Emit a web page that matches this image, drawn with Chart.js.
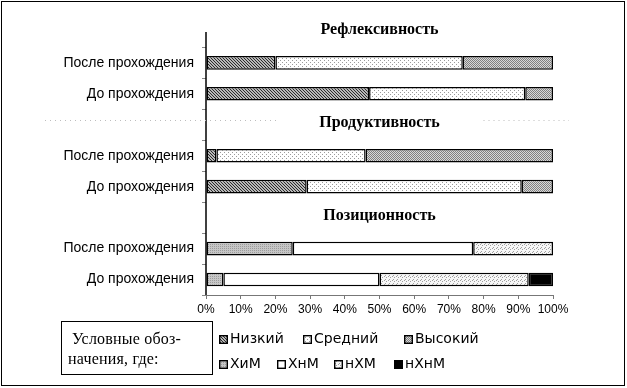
<!DOCTYPE html>
<html>
<head>
<meta charset="utf-8">
<script src="https://cdn.jsdelivr.net/npm/chart.js@4.4.1/dist/chart.umd.min.js"></script>
<style>
  html, body { margin: 0; padding: 0; background: #fff; }
  #wrap { position: relative; width: 627px; height: 388px; overflow: hidden; }
  #frame { position: absolute; left: 1px; top: 1px; width: 622px; height: 383px; border: 1px solid #000; pointer-events: none; }
  canvas#chart { position: absolute; left: 0; top: 0; }
  #legbox {
    position: absolute; left: 61px; top: 321px; width: 144px; height: 52px;
    border: 1px solid #000; font: 16px "Liberation Serif", serif; line-height: 20px;
    padding: 0 0 0 6px; box-sizing: content-box; letter-spacing: 0.2px;
  }
  #legbox .l1 { margin-top: 7px; padding-left: 4px; }
  .item { position: absolute; font: 14px "DejaVu Sans", sans-serif; line-height: 16px; white-space: nowrap; }
  .item canvas { display: inline-block; vertical-align: -1px; margin-right: 2px; }
</style>
</head>
<body>
<div id="wrap">
  <canvas id="chart" width="627" height="388"></canvas>
  <div id="legbox"><div class="l1">Условные обоз-</div><div>начения, где:</div></div>
  <div id="legend"></div>
  <div id="frame"></div>
</div>
<script>
// rows of the y axis (empty rows carry the section titles)
const rowLabels = ['', 'После прохождения', 'До прохождения', '', 'После прохождения', 'До прохождения', '', 'После прохождения', 'До прохождения'];
const sectionTitles = ['Рефлексивность', 'Продуктивность', 'Позиционность'];
const titleRows = [0, 3, 6];

// percentages
const lowValues  = [null, 20, 47, null, 3, 29, null, null, null];
const midValues  = [null, 54, 45, null, 43, 62, null, null, null];
const highValues = [null, 26, 8, null, 54, 9, null, null, null];
const himValues  = [null, null, null, null, null, null, null, 25, 5];
const hnmValues  = [null, null, null, null, null, null, null, 52, 45];
const nhmValues  = [null, null, null, null, null, null, null, 23, 43];
const nhnmValues = [null, null, null, null, null, null, null, null, 7];

const seriesNames = ['Низкий', 'Средний', 'Высокий', 'ХиМ', 'ХнМ', 'нХМ', 'нХнМ'];

// small pixel tiles used as fill patterns
function tileCanvas(size, bg, fg, test) {
  const c = document.createElement('canvas');
  c.width = size; c.height = size;
  const g = c.getContext('2d');
  g.fillStyle = bg; g.fillRect(0, 0, size, size);
  g.fillStyle = fg;
  for (let y = 0; y < size; y++)
    for (let x = 0; x < size; x++)
      if (test(x, y)) g.fillRect(x, y, 1, 1);
  return c;
}
const tiles = [
  tileCanvas(6, '#b8b8b8', '#2a2a2a', (x, y) => (x - y + 6) % 3 === 0),
  tileCanvas(4, '#ffffff', '#9a9a9a', (x, y) => (x === 0 && y === 0) || (x === 2 && y === 2)),
  tileCanvas(4, '#d8d8d8', '#808080', (x, y) => (x + y) % 2 === 0),
  tileCanvas(4, '#c6c6c6', '#9c9c9c', (x, y) => (x + y) % 2 === 0 && y % 2 === 0),
  tileCanvas(2, '#ffffff', '#ffffff', () => false),
  tileCanvas(4, '#f7f7f7', '#a0a0a0', (x, y) => (x === 0 && y === 0) || (x === 2 && y === 1) || (x === 1 && y === 3)),
  tileCanvas(2, '#000000', '#000000', () => true)
];

const ctx = document.getElementById('chart').getContext('2d');
const fills = tiles.map(t => ctx.createPattern(t, 'repeat'));
const allValues = [lowValues, midValues, highValues, himValues, hnmValues, nhmValues, nhnmValues];

const titlePlugin = {
  id: 'sections',
  afterDraw(chart) {
    const { ctx, chartArea } = chart;
    const ys = chart.scales.y;
    const cx = (chartArea.left + chartArea.right) / 2;
    ctx.save();
    // y axis line, starting at the first title row
    ctx.strokeStyle = '#000';
    ctx.lineWidth = 1.5;
    ctx.beginPath();
    ctx.moveTo(chartArea.left, ys.getPixelForValue(0));
    ctx.lineTo(chartArea.left, chartArea.bottom);
    ctx.stroke();
    // faint dotted separator near the second title
    const sy = Math.round(ys.getPixelForValue(3)) - 4.5;
    ctx.strokeStyle = '#bdbdbd';
    ctx.lineWidth = 1;
    ctx.setLineDash([1, 4]);
    ctx.beginPath();
    ctx.moveTo(45, sy); ctx.lineTo(cx - 100, sy);
    ctx.moveTo(cx + 104, sy); ctx.lineTo(chartArea.right + 16, sy);
    ctx.stroke();
    ctx.setLineDash([]);
    ctx.fillStyle = '#000';
    ctx.font = 'bold 16px "Liberation Serif", serif';
    ctx.textAlign = 'center';
    ctx.textBaseline = 'middle';
    titleRows.forEach((r, i) => ctx.fillText(sectionTitles[i], cx, ys.getPixelForValue(r) - 2));
    ctx.restore();
  }
};

new Chart(ctx, {
  type: 'bar',
  data: {
    labels: rowLabels,
    datasets: allValues.map((vals, i) => ({
      label: seriesNames[i],
      data: vals,
      backgroundColor: fills[i],
      borderColor: '#000',
      borderWidth: 1.5,
      borderSkipped: false,
      barPercentage: 0.44,
      categoryPercentage: 1
    }))
  },
  options: {
    indexAxis: 'y',
    responsive: false,
    animation: false,
    layout: { padding: { left: 0, right: 74, top: 8, bottom: 73 } },
    plugins: { legend: { display: false }, tooltip: { enabled: false } },
    scales: {
      x: {
        stacked: true,
        min: 0, max: 100,
        ticks: { stepSize: 10, callback: v => v + '%', color: '#000', padding: 3,
                 font: { family: '"Liberation Sans", Arial, sans-serif', size: 12 }, maxRotation: 0 },
        grid: { drawOnChartArea: false, tickLength: 4, color: '#777' },
        border: { color: '#777', width: 1 },
        afterFit(s) { s.height = 20; }
      },
      y: {
        stacked: true,
        ticks: { color: '#000', padding: 8, autoSkip: false,
                 font: { family: '"Liberation Sans", Arial, sans-serif', size: 14 } },
        grid: { drawOnChartArea: false, tickLength: 4,
                color: c => c.index === 0 ? 'rgba(0,0,0,0)' : '#888' },
        border: { display: false },
        afterFit(s) { s.width = 206; }
      }
    }
  },
  plugins: [titlePlugin]
});

// legend (two rows, as in the original)
const legendRows = [[0, 1, 2], [3, 4, 5, 6]];
const legendLeft = [[219, 303, 404], [219, 277, 334, 394]];
const legendTop = [330, 355];
const legend = document.getElementById('legend');
legendRows.forEach((row, r) => row.forEach((si, k) => {
  const d = document.createElement('div');
  d.className = 'item';
  d.style.left = legendLeft[r][k] + 'px';
  d.style.top = legendTop[r] + 'px';
  const sw = document.createElement('canvas');
  sw.width = 9; sw.height = 9;
  const g = sw.getContext('2d');
  g.fillStyle = g.createPattern(tiles[si], 'repeat');
  g.fillRect(0, 0, 9, 9);
  g.strokeStyle = '#000'; g.lineWidth = 1.4;
  g.strokeRect(0.7, 0.7, 7.6, 7.6);
  d.appendChild(sw);
  d.appendChild(document.createTextNode(seriesNames[si]));
  legend.appendChild(d);
}));
</script>
</body>
</html>
